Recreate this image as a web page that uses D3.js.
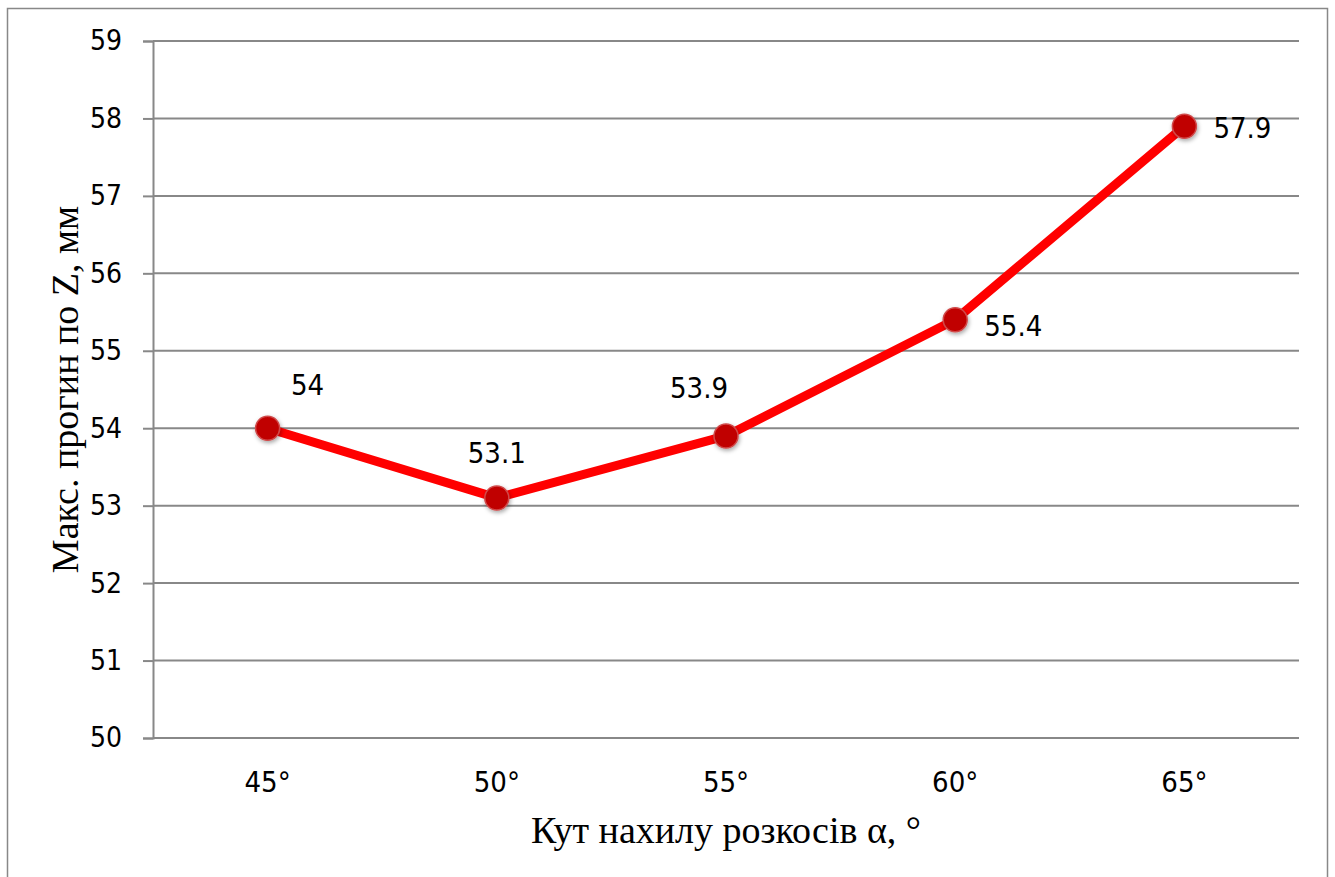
<!DOCTYPE html>
<html>
<head>
<meta charset="utf-8">
<script src="https://cdn.jsdelivr.net/npm/d3@7"></script>
<style>
  body { margin: 0; background: #fff; }
  svg { display: block; }
</style>
</head>
<body>
<svg id="chart" width="1335" height="877"></svg>
<script>
// data
const angles = ["45°", "50°", "55°", "60°", "65°"];
const deflection = [54, 53.1, 53.9, 55.4, 57.9];
const yTicks = [50, 51, 52, 53, 54, 55, 56, 57, 58, 59];

// label placement per point (dx, dy, anchor)
const labelPos = [
  { dx: 40, dy: -33, anchor: "middle" },
  { dx: 0, dy: -35, anchor: "middle" },
  { dx: -27, dy: -38, anchor: "middle" },
  { dx: 29, dy: 16, anchor: "start" },
  { dx: 29, dy: 12, anchor: "start" },
];

let svg = d3.select("#chart");
const tickFont = "'Liberation Sans Narrow', 'DejaVu Sans Condensed', sans-serif";
const titleFont = "'Liberation Serif', 'Times New Roman', serif";

// outer border
svg.append("rect")
  .attr("x", 7.5).attr("y", 8.5)
  .attr("width", 1320).attr("height", 880)
  .attr("fill", "#fff")
  .attr("stroke", "#888").attr("stroke-width", 1.5);

const plotLeft = 153, plotRight = 1299, plotTop = 41, plotBottom = 738;

let xScale = d3.scaleBand().domain(angles).range([plotLeft, plotRight]).padding(0),
  yScale = d3.scaleLinear().domain([50, 59]).range([plotBottom, plotTop]);

// y axis
let yAxis = svg.append("g")
  .attr("transform", "translate(" + plotLeft + ",0)")
  .call(d3.axisLeft(yScale).tickValues(yTicks).tickSize(10).tickPadding(21).tickFormat(d3.format("d")));
yAxis.select(".domain").attr("stroke", "#888").attr("stroke-width", 2);
yAxis.selectAll(".tick line").attr("stroke", "#888").attr("stroke-width", 2);
yAxis.selectAll(".tick text")
  .attr("font-family", tickFont).attr("font-size", "28px").attr("fill", "#000");

// gridlines
svg.append("g").selectAll("line")
  .data(yTicks)
  .enter()
  .append("line")
  .attr("x1", plotLeft).attr("x2", plotRight)
  .attr("y1", (d) => yScale(d)).attr("y2", (d) => yScale(d))
  .attr("stroke", "#888").attr("stroke-width", 2);

// x axis labels (no ticks)
let xAxis = svg.append("g")
  .attr("transform", "translate(0," + plotBottom + ")")
  .call(d3.axisBottom(xScale).tickSize(0).tickPadding(33));
xAxis.select(".domain").remove();
xAxis.selectAll(".tick text")
  .attr("font-family", tickFont).attr("font-size", "29px").attr("fill", "#000");

// shadow filter
const defs = svg.append("defs");
const f = defs.append("filter").attr("id", "shadow").attr("x", "-50%").attr("y", "-50%").attr("width", "200%").attr("height", "200%");
f.append("feDropShadow").attr("dx", 1).attr("dy", 2).attr("stdDeviation", 2).attr("flood-color", "#000").attr("flood-opacity", 0.35);

const pts = angles.map((a, i) => ({ a: a, v: deflection[i], i: i }));
const cx = (d) => xScale(d.a) + xScale.bandwidth() / 2;

svg.append("path")
  .datum(pts)
  .attr("fill", "none")
  .attr("stroke", "#ff0000")
  .attr("stroke-width", 9)
  .attr("stroke-linejoin", "round")
  .attr("d", d3.line().x(cx).y((d) => yScale(d.v)));

svg.append("g").selectAll("circle")
  .data(pts)
  .enter()
  .append("circle")
  .attr("cx", cx)
  .attr("cy", (d) => yScale(d.v))
  .attr("r", 12)
  .attr("fill", "#c00000")
  .attr("stroke", "#d04a4a")
  .attr("stroke-width", 1.5)
  .attr("filter", "url(#shadow)");

svg.append("g").selectAll("text")
  .data(pts)
  .enter()
  .append("text")
  .attr("x", (d) => cx(d) + labelPos[d.i].dx)
  .attr("y", (d) => yScale(d.v) + labelPos[d.i].dy)
  .attr("text-anchor", (d) => labelPos[d.i].anchor)
  .attr("font-family", tickFont)
  .attr("font-size", "29px")
  .text((d) => d.v);

// axis titles
svg.append("text")
  .attr("x", (plotLeft + plotRight) / 2)
  .attr("y", 843)
  .attr("text-anchor", "middle")
  .attr("font-family", titleFont)
  .attr("font-size", "38px")
  .text("Кут нахилу розкосів α, °");

svg.append("text")
  .attr("transform", "translate(78," + (plotTop + plotBottom) / 2 + ") rotate(-90)")
  .attr("text-anchor", "middle")
  .attr("font-family", titleFont)
  .attr("font-size", "38px")
  .text("Макс. прогин по Z, мм");
</script>
</body>
</html>
